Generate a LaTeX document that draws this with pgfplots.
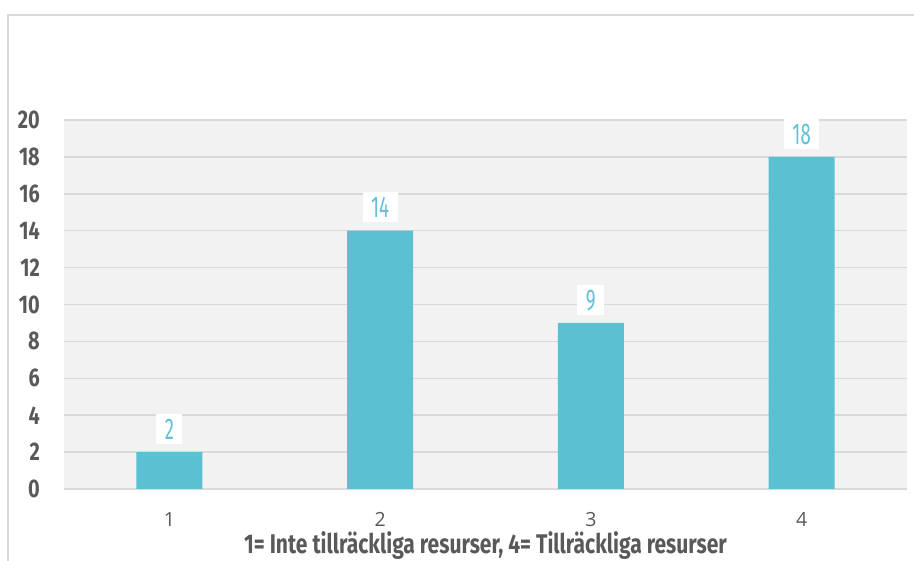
\documentclass[border=0pt]{standalone}
\usepackage{pgfplots}
\pgfplotsset{compat=1.18}
\usepackage{fontspec}
\setmainfont{Open Sans}
\newfontfamily\condb[FakeStretch=0.78]{Fira Sans}
\newfontfamily\condl[FakeStretch=0.62]{Fira Sans}
\definecolor{bar}{HTML}{5BC0D2}
\definecolor{lab}{HTML}{62C2D5}
\definecolor{txt}{HTML}{595959}
\definecolor{gridc}{HTML}{D9D9D9}
\definecolor{bgc}{HTML}{F2F2F2}
\begin{document}
\begin{tikzpicture}[x=1pt,y=1pt]
\path[use as bounding box] (0,0) rectangle (914,561);
\draw[gridc, line width=1.5pt] (8,0) -- (8,546) -- (914,546);
\begin{axis}[
  at={(64pt,72pt)}, anchor=south west,
  scale only axis, width=843pt, height=369pt,
  xmin=0.5, xmax=4.5, ymin=0, ymax=20,
  ytick={0,2,...,20}, xtick={1,2,3,4},
  /pgf/number format/assume math mode=true,
  ymajorgrids, grid style={color=gridc, line width=1.5pt},
  axis background/.style={fill=bgc},
  axis line style={draw=none}, major tick length=0pt,
  yticklabel style={font=\condb\bfseries\fontsize{25.5}{25.5}\selectfont, text=txt, inner sep=0pt, anchor=east, xshift=-24pt},
  xticklabel style={font=\fontsize{19.5}{20}\selectfont, text=txt, inner sep=0pt, anchor=north, yshift=-23pt},
  xlabel={1= Inte tillräckliga resurser, 4= Tillräckliga resurser},
  xlabel style={at={(axis description cs:0.5,0)}, anchor=base, yshift=-65pt, inner sep=0pt, font=\condb\bfseries\fontsize{27}{27}\selectfont, text=txt},
  ybar, bar width=66pt,
  nodes near coords,
  nodes near coords style={font=\condl\fontsize{30}{30}\selectfont, text=lab, fill=white, anchor=south, yshift=8pt, text height=21pt, text depth=0pt, inner ysep=4.5pt, inner xsep=8.5pt},
]
\addplot[fill=bar, draw=none] coordinates {(1,2) (2,14) (3,9) (4,18)};
\end{axis}
\end{tikzpicture}
\end{document}
